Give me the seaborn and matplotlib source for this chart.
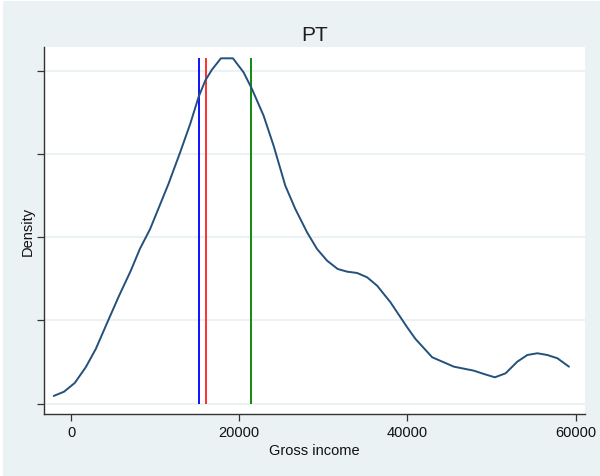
import numpy as np
import matplotlib.pyplot as plt
import matplotlib.patches as mpatches
import pandas as pd
import seaborn as sns

# Kernel density of gross income (density in units of 1e-5)
income = [-2060, -833, 440, 1750, 2940, 4320, 5714, 7107, 8179, 9405,
          11583, 12976, 14167, 15155, 15952, 16750, 17821, 19250, 20512, 21512,
          22893, 24083, 25476, 26667, 28060, 29250, 30440, 31702, 32821, 34012,
          35202, 36393, 37976, 39964, 40952, 42940, 45512, 47893, 49083, 50393,
          51667, 53060, 54250, 55440, 56631, 57821, 59202]
density = [0.093, 0.144, 0.249, 0.438, 0.657, 0.978, 1.298, 1.599, 1.859, 2.100,
           2.641, 3.022, 3.362, 3.683, 3.882, 4.014, 4.151, 4.151, 3.983, 3.782,
           3.462, 3.101, 2.620, 2.340, 2.060, 1.859, 1.719, 1.619, 1.587, 1.571,
           1.519, 1.418, 1.219, 0.918, 0.778, 0.558, 0.445, 0.397, 0.357, 0.317,
           0.365, 0.505, 0.585, 0.606, 0.585, 0.546, 0.445]

# reference lines (e.g. median / poverty line / mean)
ref_values = [15155, 16036, 21345]
ref_colors = ["#1010ff", "#ff3030", "#108a10"]

x_ticks = [0, 20000, 40000, 60000]
y_ticks = [0, 1, 2, 3, 4]

df = pd.DataFrame({"income": income, "density": density})

sns.set_theme(style="white")
plt.rcParams["font.family"] = ["Liberation Sans", "DejaVu Sans"]

bg = "#eaf2f3"
fig = plt.figure(figsize=(6, 4.77), dpi=100, facecolor="white")
fig.patches.append(mpatches.Rectangle((3 / 600, 0), 1, 1 - 2 / 477, transform=fig.transFigure,
                                      facecolor=bg, edgecolor="none", zorder=-10))
ax = fig.add_axes([44 / 600, 62 / 477, 541 / 600, 367 / 477])
ax.set_facecolor("white")

for v in y_ticks:
    ax.axhline(v, color=bg, lw=1.5, zorder=0)

ax.vlines(ref_values, 0, max(density), colors=ref_colors, lw=1.4, zorder=2)
sns.lineplot(data=df, x="income", y="density", color="#24507c", lw=1.4, ax=ax, zorder=3)

ax.set_xlim(-3214, 61107)
ax.set_ylim(-0.124, 4.287)
ax.set_xticks(x_ticks)
ax.set_xticklabels([str(t) for t in x_ticks])
ax.set_yticks(y_ticks)
ax.set_yticklabels([])

for s in ["top", "right"]:
    ax.spines[s].set_visible(False)
for s in ["left", "bottom"]:
    ax.spines[s].set_color("#333333")
    ax.spines[s].set_linewidth(1.0)

ax.tick_params(axis="both", direction="out", length=5, width=0.9, color="#333333",
               labelsize=10.5, labelcolor="#111111", pad=3, left=True, bottom=True)
ax.set_xlabel("Gross income", fontsize=10.5, color="#111111", labelpad=3)
ax.set_ylabel("Density", fontsize=10.5, color="#111111", labelpad=-1)
ax.set_title("PT", fontsize=15, color="#1e1e1e", pad=5)

fig.savefig("out.png", dpi=100, facecolor=fig.get_facecolor())
